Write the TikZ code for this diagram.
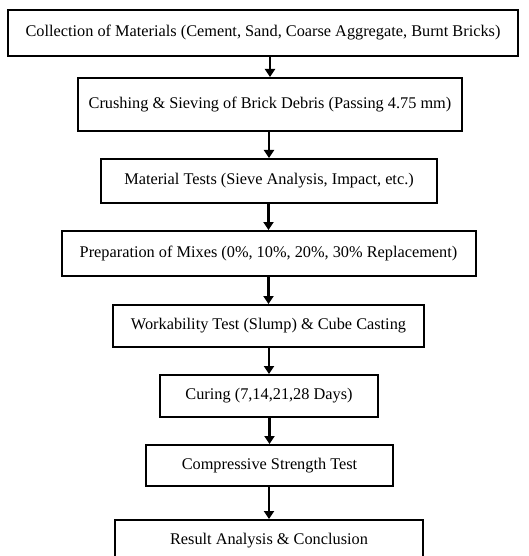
\documentclass[tikz,border=0pt]{standalone}
\usepackage{fontspec}
\setmainfont{Liberation Serif}
\usetikzlibrary{arrows.meta, positioning}

\tikzset{
  stagebox/.style={draw, line width=2pt, inner sep=0pt, align=center,
    font=\fontsize{16.3}{19}\selectfont},
  flowarrow/.style={-{Triangle[length=8pt, width=10pt]}, line width=2.8pt}
}

\begin{document}
\begin{tikzpicture}[x=1pt, y=-1pt]
  \useasboundingbox (0,0) rectangle (528,556);
  \node[stagebox, minimum width=510pt, minimum height=46pt] (collect) at (263,33)
    {Collection of Materials (Cement, Sand, Coarse Aggregate, Burnt Bricks)};
  \node[stagebox, minimum width=384pt, minimum height=53pt] (crush) at (270,104.5)
    {Crushing \& Sieving of Brick Debris (Passing 4.75 mm)};
  \node[stagebox, minimum width=336pt, minimum height=44pt] (tests) at (269,181)
    {Material Tests (Sieve Analysis, Impact, etc.)};
  \node[stagebox, minimum width=414pt, minimum height=45pt] (mixes) at (268.5,253.5)
    {Preparation of Mixes (0\%, 10\%, 20\%, 30\% Replacement)};
  \node[stagebox, minimum width=311pt, minimum height=42pt] (slump) at (268.5,326)
    {Workability Test (Slump) \& Cube Casting};
  \node[stagebox, minimum width=218pt, minimum height=42pt] (curing) at (269,396)
    {Curing (7,14,21,28 Days)};
  \node[stagebox, minimum width=247pt, minimum height=41pt] (strength) at (269.5,465.5)
    {Compressive Strength Test};
  \node[stagebox, minimum width=308pt, minimum height=42pt] (result) at (269,541)
    {Result Analysis \& Conclusion};

  % connectors
  \draw[flowarrow] (collect.south -| crush.north) -- (crush.north);
  \draw[flowarrow] (crush.south -| tests.north) -- (tests.north);
  \draw[flowarrow] (tests.south -| mixes.north) -- (mixes.north);
  \draw[flowarrow] (mixes.south -| slump.north) -- (slump.north);
  \draw[flowarrow] (slump.south -| curing.north) -- (curing.north);
  \draw[flowarrow] (curing.south -| strength.north) -- (strength.north);
  \draw[flowarrow] (strength.south -| result.north) -- (result.north);
\end{tikzpicture}
\end{document}
